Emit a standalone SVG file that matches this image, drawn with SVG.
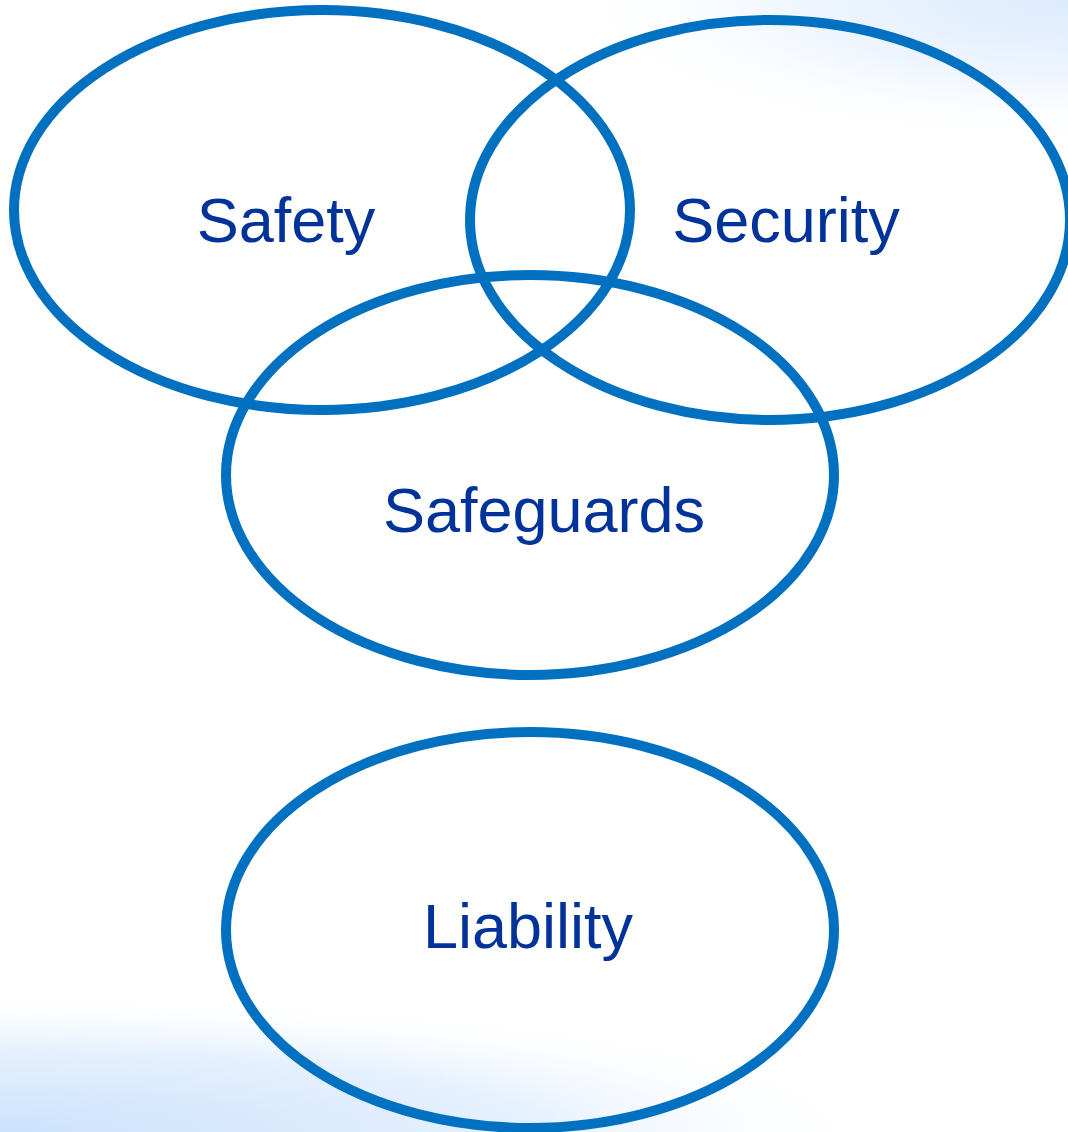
<svg xmlns="http://www.w3.org/2000/svg" width="1068" height="1132" viewBox="0 0 1068 1132">
<defs>
<radialGradient id="gTR" cx="1068" cy="0" r="1" gradientUnits="userSpaceOnUse" gradientTransform="translate(1068 0) scale(520 150) translate(-1068 0)">
<stop offset="0" stop-color="#dcebfd"/>
<stop offset="0.5" stop-color="#eef5fe"/>
<stop offset="1" stop-color="#ffffff" stop-opacity="0"/>
</radialGradient>
<radialGradient id="gBL" cx="0" cy="1132" r="1" gradientUnits="userSpaceOnUse" gradientTransform="translate(0 1132) scale(900 140) translate(0 -1132)">
<stop offset="0" stop-color="#cce2fc"/>
<stop offset="0.6" stop-color="#e6f1fe"/>
<stop offset="1" stop-color="#ffffff" stop-opacity="0"/>
</radialGradient>
<style>
.ring{fill:none;stroke:#0070c0;stroke-width:10}
.lbl{font-family:"Liberation Sans",Arial,sans-serif;font-size:63px;fill:#003399;text-anchor:middle}
</style>
</defs>
<rect width="1068" height="1132" fill="#ffffff"/>
<rect width="1068" height="1132" fill="url(#gTR)"/>
<rect width="1068" height="1132" fill="url(#gBL)"/>
<g id="safety"><ellipse class="ring" cx="322" cy="210" rx="308" ry="200"/><text class="lbl" x="286" y="242">Safety</text></g>
<g id="security"><ellipse class="ring" cx="770" cy="220" rx="300" ry="200"/><text class="lbl" x="786" y="242">Security</text></g>
<g id="safeguards"><ellipse class="ring" cx="530" cy="475" rx="304" ry="200"/><text class="lbl" x="544" y="532">Safeguards</text></g>
<g id="liability"><ellipse class="ring" cx="530" cy="930" rx="304" ry="198"/><text class="lbl" x="528" y="948">Liability</text></g>
<g id="connectors"/>
</svg>
